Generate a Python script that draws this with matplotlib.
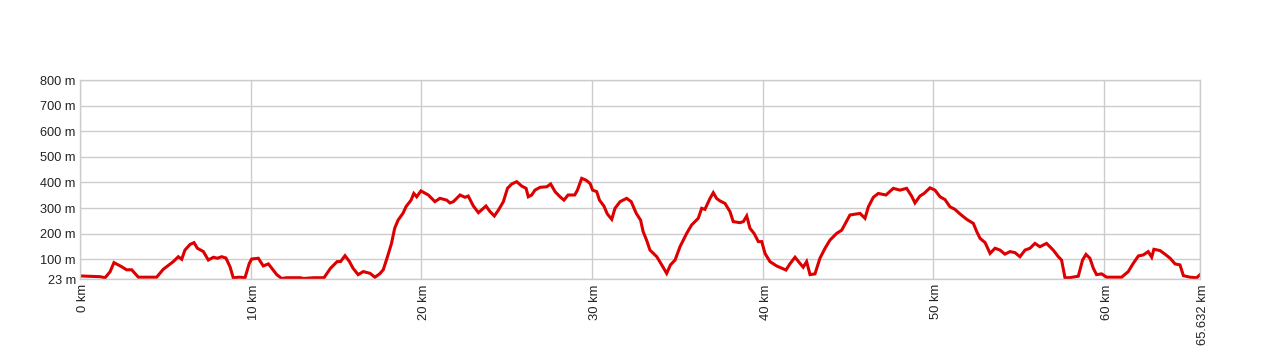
import matplotlib
matplotlib.use("Agg")
import matplotlib.pyplot as plt
from matplotlib.transforms import ScaledTranslation

# Elevation profile (km, m)
distance_km = [0.0, 1.17, 1.47, 1.76, 1.99, 2.44, 2.73, 3.03, 3.42, 4.49, 4.88, 5.47, 5.76, 5.96,
               6.15, 6.45, 6.68, 6.88, 7.23, 7.52, 7.82, 8.05, 8.3, 8.55, 8.79, 8.98, 9.37, 9.67,
               9.92, 10.06, 10.45, 10.74, 11.04, 11.24, 11.53, 11.82, 12.1, 12.9, 13.1, 13.7, 14.3,
               14.68, 15.07, 15.27, 15.53, 15.79, 16.0, 16.3, 16.6, 17.0, 17.28, 17.56, 17.77,
               17.99, 18.25, 18.44, 18.64, 18.93, 19.1, 19.4, 19.56, 19.73, 19.98, 20.41, 20.8,
               21.09, 21.49, 21.68, 21.88, 22.27, 22.56, 22.75, 23.05, 23.35, 23.79, 24.03, 24.28,
               24.52, 24.81, 25.05, 25.3, 25.59, 25.88, 26.14, 26.27, 26.47, 26.66, 26.96, 27.35,
               27.58, 27.84, 28.13, 28.36, 28.6, 28.99, 29.15, 29.4, 29.65, 29.89, 30.04, 30.28,
               30.44, 30.7, 30.9, 31.16, 31.35, 31.65, 32.03, 32.3, 32.6, 32.85, 33.0, 33.2, 33.4,
               33.8, 34.09, 34.38, 34.6, 34.87, 35.16, 35.55, 35.84, 36.23, 36.43, 36.62, 36.92,
               37.11, 37.3, 37.5, 37.8, 38.09, 38.28, 38.67, 38.87, 39.07, 39.26, 39.5, 39.75,
               39.95, 40.14, 40.43, 40.82, 41.37, 41.6, 41.9, 42.19, 42.38, 42.58, 42.78, 43.07,
               43.36, 43.66, 43.95, 44.34, 44.64, 45.12, 45.71, 46.0, 46.2, 46.49, 46.78, 47.23,
               47.66, 48.05, 48.44, 48.73, 48.93, 49.22, 49.46, 49.81, 50.1, 50.4, 50.69, 50.98,
               51.27, 51.57, 51.96, 52.35, 52.55, 52.74, 53.04, 53.33, 53.62, 53.91, 54.2, 54.5,
               54.79, 55.08, 55.38, 55.67, 55.96, 56.25, 56.64, 57.03, 57.33, 57.52, 57.72, 58.0,
               58.5, 58.75, 58.95, 59.18, 59.38, 59.57, 59.87, 60.16, 61.04, 61.43, 61.72, 62.02,
               62.31, 62.6, 62.8, 62.93, 63.29, 63.58, 63.88, 64.17, 64.46, 64.66, 65.05, 65.44,
               65.632]
elevation_m = [35, 32, 28, 51, 87, 71, 59, 59, 30, 30, 61, 91, 110, 100,
               136, 158, 165, 143, 130, 97, 108, 104, 110, 105, 71, 28, 30, 28,
               84, 101, 104, 74, 82, 65, 40, 25, 28, 28, 25, 28, 28,
               65, 91, 91, 114, 91, 65, 40, 52, 45, 30, 43, 59,
               104, 161, 221, 253, 280, 305, 331, 357, 344, 367, 351, 325,
               338, 331, 320, 325, 351, 342, 347, 308, 282, 308, 286, 269,
               292, 325, 377, 394, 403, 386, 377, 344, 351, 370, 381, 383,
               394, 364, 344, 331, 351, 351, 370, 416, 409, 396, 370, 364,
               331, 308, 277, 256, 299, 325, 338, 325, 279, 253, 208, 175, 136,
               110, 78, 45, 78, 97, 149, 201, 234, 260, 299, 295, 338,
               360, 338, 328, 318, 286, 247, 243, 247, 269, 221, 201, 169,
               169, 123, 91, 74, 58, 82, 108, 84, 69, 91, 40, 43,
               104, 143, 175, 201, 214, 273, 279, 260, 305, 342, 357, 351,
               377, 370, 377, 347, 320, 347, 357, 379, 370, 344, 333, 305,
               295, 277, 256, 240, 208, 182, 165, 123, 143, 136, 120, 130,
               126, 110, 136, 143, 162, 149, 162, 136, 110, 97, 28, 28,
               34, 97, 119, 104, 65, 40, 43, 30, 30, 52, 84, 113,
               117, 130, 108, 139, 134, 120, 104, 82, 78, 36, 30, 28,
               40]

x_ticks = [0, 10, 20, 30, 40, 50, 60, 65.632]
x_tick_labels = ["0 km", "10 km", "20 km", "30 km", "40 km", "50 km", "60 km", "65.632 km"]
y_ticks = [23, 100, 200, 300, 400, 500, 600, 700, 800]
y_tick_labels = ["23 m", "100 m", "200 m", "300 m", "400 m", "500 m", "600 m", "700 m", "800 m"]

plt.rcParams['font.family'] = ['Liberation Sans', 'DejaVu Sans']

fig = plt.figure(figsize=(12.8, 3.6), dpi=100)
ax = fig.add_axes([80 / 1280, 1 - 279 / 360, 1120 / 1280, 199 / 360])

ax.plot(distance_km, elevation_m, color="#dd0000", linewidth=2.2, solid_joinstyle="miter")

ax.set_xlim(0, 65.632)
ax.set_ylim(23, 800)
ax.set_xticks(x_ticks)
ax.set_xticklabels(x_tick_labels, rotation=90, fontsize=9.4, color="#222222")
ax.set_yticks(y_ticks)
ax.set_yticklabels(y_tick_labels, fontsize=9.2, color="#222222")
ax.tick_params(axis="both", length=0, pad=3)
ax.grid(True, color="#cccccc", linewidth=1.0)
ax.set_axisbelow(True)
for side in ["left", "right", "top", "bottom"]:
    ax.spines[side].set_color("#cccccc")
    ax.spines[side].set_linewidth(1.0)

offset = ScaledTranslation(3 / 100, -1 / 100, fig.dpi_scale_trans)
for lbl in ax.get_xticklabels():
    lbl.set_transform(lbl.get_transform() + offset)

fig.savefig("out.png", dpi=100)
